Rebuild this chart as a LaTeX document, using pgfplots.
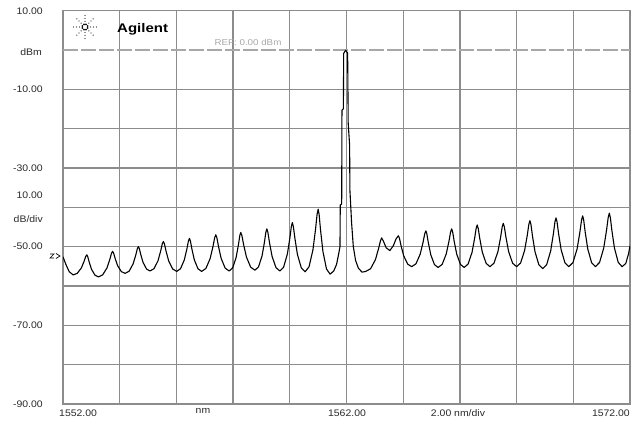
\documentclass[border=0pt]{standalone}
\usepackage{pgfplots}
\pgfplotsset{compat=1.18}
\usepackage{fontspec}
\setmainfont{Liberation Sans}
\definecolor{gridgray}{HTML}{8C8C8C}
\definecolor{refgray}{HTML}{A8A8A8}
\definecolor{labgray}{HTML}{2A2A2A}
\pgfplotstableread{
x y
1552.00 -52.6
1552.10 -54.5
1552.22 -56.4
1552.36 -57.2
1552.504 -56.79
1552.648 -55.42
1552.744 -53.73
1552.802 -52.51
1552.84 -52.1
1552.873 -52.55
1552.922 -53.89
1553.004 -55.74
1553.127 -57.25
1553.25 -57.7
1553.40 -57.18
1553.55 -55.43
1553.65 -53.28
1553.71 -51.72
1553.75 -51.2
1553.785 -51.65
1553.838 -52.99
1553.926 -54.84
1554.058 -56.35
1554.19 -56.8
1554.331 -56.26
1554.472 -54.42
1554.566 -52.18
1554.622 -50.54
1554.66 -50.0
1554.693 -50.50
1554.742 -51.98
1554.824 -54.03
1554.947 -55.70
1555.07 -56.2
1555.211 -55.60
1555.352 -53.58
1555.446 -51.10
1555.502 -49.30
1555.54 -48.7
1555.578 -49.31
1555.634 -51.13
1555.728 -53.64
1555.869 -55.69
1556.01 -56.3
1556.145 -55.63
1556.28 -53.36
1556.37 -50.59
1556.424 -48.57
1556.46 -47.9
1556.494 -48.57
1556.546 -50.59
1556.632 -53.36
1556.761 -55.63
1556.89 -56.3
1557.04 -55.56
1557.19 -53.05
1557.29 -49.98
1557.35 -47.74
1557.39 -47.0
1557.428 -47.74
1557.484 -49.94
1557.578 -52.98
1557.719 -55.46
1557.86 -56.2
1557.983 -55.42
1558.106 -52.77
1558.188 -49.54
1558.237 -47.18
1558.27 -46.4
1558.31 -47.17
1558.37 -49.47
1558.47 -52.64
1558.62 -55.23
1558.77 -56.0
1558.896 -55.16
1559.022 -52.33
1559.106 -48.86
1559.156 -46.34
1559.19 -45.5
1559.227 -46.36
1559.282 -48.92
1559.374 -52.46
1559.512 -55.34
1559.65 -56.2
1559.782 -55.22
1559.914 -51.90
1560.002 -47.84
1560.055 -44.88
1560.09 -43.9
1560.126 -44.90
1560.18 -47.90
1560.27 -52.03
1560.405 -55.40
1560.54 -56.4
1560.678 -55.13
1560.816 -50.84
1560.908 -45.59
1560.963 -41.77
1561.00 -40.5
1561.034 -41.82
1561.084 -45.78
1561.168 -51.23
1561.294 -55.68
1561.42 -57.0
1561.55 -56.2
1561.65 -54.5
1561.72 -52.0
1561.77 -50.0
1561.78 -39.4
1561.83 -39.2
1561.84 -15.3
1561.89 -15.0
1561.90 -0.9
1561.97 -0.1
1562.04 -0.8
1562.06 -18.7
1562.11 -24.2
1562.12 -35.6
1562.18 -44.0
1562.24 -50.0
1562.32 -53.5
1562.42 -55.5
1562.55 -56.5
1562.68 -56.3
1562.85 -55.62
1563.02 -53.33
1563.13 -50.52
1563.20 -48.48
1563.24 -47.8
1563.30 -48.6
1563.40 -50.3
1563.53 -51.0
1563.65 -49.8
1563.75 -48.0
1563.83 -47.25
1563.868 -47.88
1563.924 -49.76
1564.018 -52.35
1564.159 -54.47
1564.30 -55.1
1564.45 -54.37
1564.60 -51.92
1564.70 -48.91
1564.76 -46.73
1564.80 -46.0
1564.834 -46.74
1564.886 -48.98
1564.972 -52.05
1565.101 -54.56
1565.23 -55.3
1565.374 -54.52
1565.518 -51.87
1565.614 -48.64
1565.672 -46.28
1565.71 -45.5
1565.745 -46.28
1565.798 -48.64
1565.886 -51.87
1566.018 -54.52
1566.15 -55.3
1566.288 -54.44
1566.426 -51.52
1566.518 -47.96
1566.573 -45.36
1566.61 -44.5
1566.646 -45.35
1566.70 -47.89
1566.79 -51.39
1566.925 -54.25
1567.06 -55.1
1567.201 -54.22
1567.342 -51.25
1567.436 -47.62
1567.492 -44.98
1567.53 -44.1
1567.568 -44.98
1567.624 -47.62
1567.718 -51.25
1567.859 -54.22
1568.00 -55.1
1568.141 -54.16
1568.282 -51.00
1568.376 -47.14
1568.432 -44.34
1568.47 -43.4
1568.506 -44.38
1568.56 -47.30
1568.65 -51.33
1568.785 -54.62
1568.92 -55.6
1569.061 -54.57
1569.202 -51.09
1569.296 -46.83
1569.352 -43.73
1569.39 -42.7
1569.426 -43.69
1569.48 -46.67
1569.57 -50.76
1569.705 -54.11
1569.84 -55.1
1569.987 -54.07
1570.134 -50.59
1570.232 -46.33
1570.291 -43.23
1570.33 -42.2
1570.366 -43.23
1570.42 -46.33
1570.51 -50.59
1570.645 -54.07
1570.78 -55.1
1570.927 -54.01
1571.074 -50.34
1571.172 -45.85
1571.231 -42.59
1571.27 -41.5
1571.306 -42.59
1571.36 -45.85
1571.45 -50.34
1571.585 -54.01
1571.72 -55.1
1571.85 -54.3
1571.95 -51.8
1572.00 -49.8
}\trace
\begin{document}
\begin{tikzpicture}
\begin{axis}[
  at={(0pt,0pt)}, anchor=south west,
  scale only axis, width=567pt, height=393.5pt,
  xmin=1552, xmax=1572, ymin=-90, ymax=10,
  xtick={1552,1554,1556,1558,1560,1562,1564,1566,1568,1570,1572},
  ytick={-90,-80,-70,-60,-50,-40,-30,-20,-10,10},
  xticklabels={}, yticklabels={},
  major tick length=0pt, tick style={draw=none},
  grid=major,
  major grid style={color=gridgray, line width=1.3pt},
  axis line style={color=gridgray, line width=1.3pt},
]
\addplot[refgray, line width=1.3pt, dash pattern=on 15pt off 3pt] coordinates {(1552,0) (1572,0)};
\addplot[black, line width=1.1pt, line join=round] table[x=x,y=y] {\trace};
\end{axis}
% labels (pt coordinates: origin = lower left corner of the plot box)
\begin{scope}[every node/.style={font=\fontsize{9.5}{11}\selectfont, text=labgray, inner sep=0pt, xscale=1.1}]
\node[anchor=east] at (-20pt,392.3pt) {10.00};
\node[anchor=east] at (-21pt,352pt) {dBm};
\node[anchor=east] at (-20pt,314.5pt) {-10.00};
\node[anchor=east] at (-20pt,236pt) {-30.00};
\node[anchor=east] at (-20pt,208.3pt) {10.00};
\node[anchor=east] at (-20pt,185pt) {dB/div};
\node[anchor=east] at (-20pt,158pt) {-50.00};
\node[anchor=east] at (-20pt,79pt) {-70.00};
\node[anchor=east] at (-20pt,0pt) {-90.00};
\node[anchor=west] at (-4pt,-9.5pt) {1552.00};
\node at (140pt,-7pt) {nm};
\node at (284pt,-9.5pt) {1562.00};
\node at (395pt,-9.5pt) {2.00 nm/div};
\node[anchor=east] at (567pt,-9.5pt) {1572.00};
\end{scope}
\node[font=\fontsize{8.5}{10}\selectfont, text=refgray, inner sep=0pt, xscale=1.15] at (185pt,362pt) {REF: 0.00 dBm};
\node[font=\bfseries\fontsize{12.5}{14}\selectfont, anchor=west, inner sep=0pt, xscale=1.2] at (54pt,375pt) {Agilent};
% Agilent spark logo
\foreach \a in {0,45,...,315}{
  \foreach \r in {5.5,8.5,11.5}{
    \fill[black!85] (22pt,377pt) ++(\a:\r pt) circle (0.7pt);
  }
  \fill[black] (22pt,377pt) ++(\a+22.5:2.8pt) circle (1.0pt);
}
% trace marker at left edge
\draw[black, line width=0.7pt] (-13pt,150pt) -- (-9pt,150pt) -- (-13pt,146pt) -- (-9pt,146pt)
  (-7pt,150.5pt) -- (-3pt,148pt) -- (-7pt,145.5pt);
\pgfresetboundingbox
\path[use as bounding box] (-63pt,-17pt) rectangle (571pt,404pt);
\end{tikzpicture}
\end{document}
